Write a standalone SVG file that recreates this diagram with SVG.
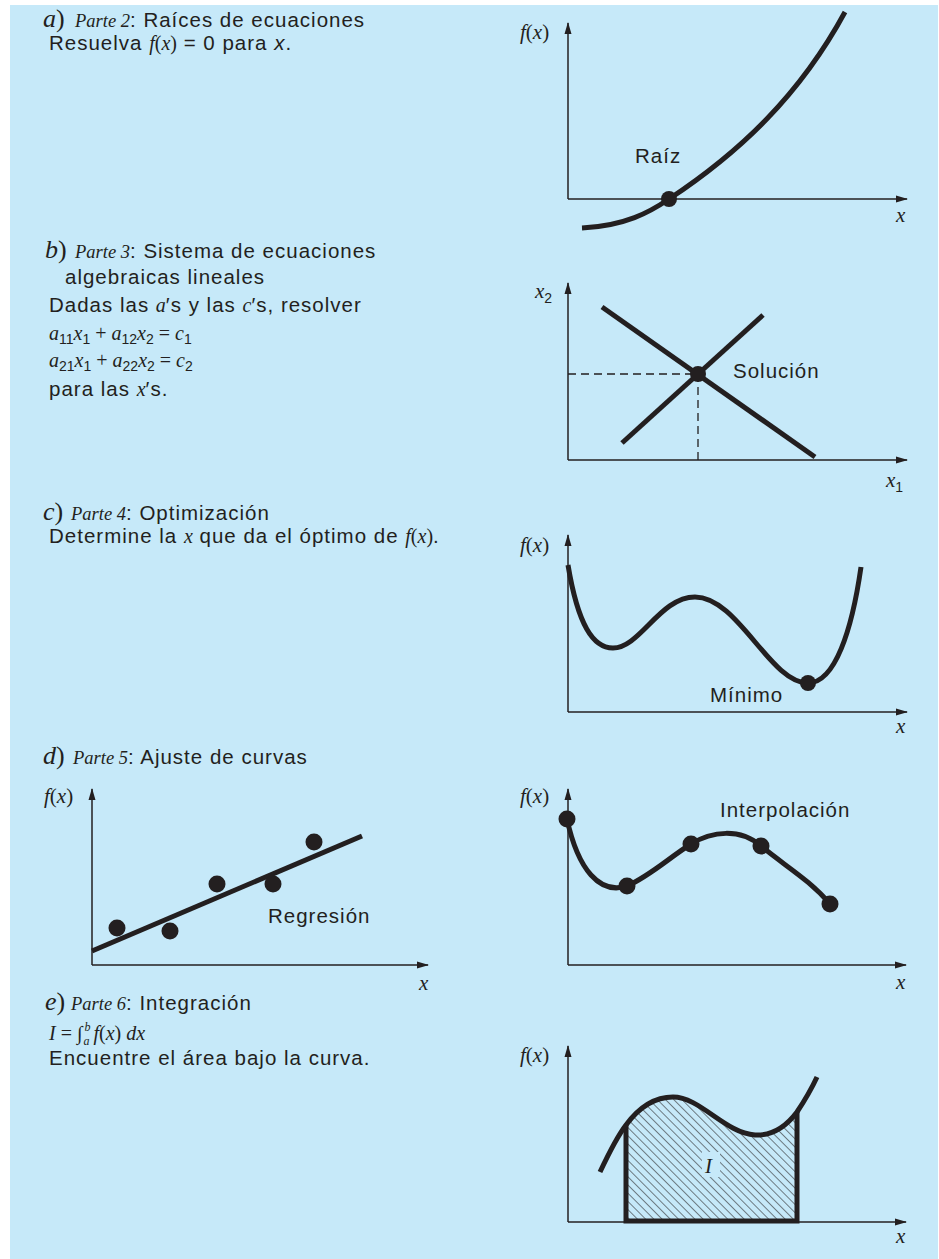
<svg xmlns="http://www.w3.org/2000/svg" width="939" height="1259" viewBox="0 0 939 1259">
<style>
.sans{font-family:"Liberation Sans",Arial,sans-serif;font-size:20.5px;letter-spacing:1px;fill:#231f20}
.ser{font-family:"Liberation Serif","Times New Roman",serif;fill:#231f20;letter-spacing:0}
.it{font-style:italic}
.big{font-size:26px}
.mid{font-size:18.5px}
.inl{font-size:20px}
.sub{font-family:"Liberation Sans",Arial,sans-serif;font-size:14px;font-style:normal}
.lab{font-family:"Liberation Serif","Times New Roman",serif;font-size:21px;font-style:italic;fill:#231f20}
.axis{stroke:#231f20;stroke-width:1.5;fill:none}
.curve{stroke:#231f20;stroke-width:5;fill:none;stroke-linecap:butt}
.dash{stroke:#231f20;stroke-width:1.3;fill:none;stroke-dasharray:8 5}
.dot{fill:#231f20}
</style>
<defs>
<marker id="arr" markerUnits="userSpaceOnUse" markerWidth="12" markerHeight="8" refX="11" refY="4" orient="auto">
<path d="M0,0.5 L12,4 L0,7.5 z" fill="#231f20"/>
</marker>
<pattern id="hatch" patternUnits="userSpaceOnUse" width="5.8" height="10" patternTransform="rotate(-45)">
<line x1="0" y1="-2" x2="0" y2="12" stroke="#231f20" stroke-width="1.1"/>
</pattern>
</defs>
<rect x="10" y="5" width="928" height="1254" fill="#c6e9f9"/>

<g id="text-a">
<text x="43" y="27" class="sans"><tspan class="ser it big">a</tspan><tspan class="ser big">)</tspan><tspan class="ser it mid" x="75">Parte 2</tspan>: Raíces de ecuaciones</text>
<text x="49" y="50" class="sans">Resuelva <tspan class="ser it inl">f</tspan><tspan class="ser inl">(</tspan><tspan class="ser it inl">x</tspan><tspan class="ser inl">)</tspan> = 0 para <tspan font-style="italic">x</tspan>.</text>
</g>

<g id="graph-a">
<line class="axis" x1="568" y1="199" x2="568" y2="23" marker-end="url(#arr)"/>
<line class="axis" x1="568" y1="199" x2="907" y2="199" marker-end="url(#arr)"/>
<text x="520" y="39" class="lab">f<tspan font-style="normal">(</tspan>x<tspan font-style="normal">)</tspan></text>
<text x="896" y="222" class="lab">x</text>
<path class="curve" d="M582,228 C625,226 650,212 669,199 C740,152 800,95 845,12"/>
<circle class="dot" cx="669" cy="199" r="8"/>
<text x="635" y="163" class="sans">Raíz</text>
</g>

<g id="text-b">
<text x="45" y="258" class="sans"><tspan class="ser it big">b</tspan><tspan class="ser big">)</tspan><tspan class="ser it mid" x="75">Parte 3</tspan>: Sistema de ecuaciones</text>
<text x="65" y="284" class="sans">algebraicas lineales</text>
<text x="49" y="312" class="sans">Dadas las <tspan class="ser it inl">a</tspan>′s y las <tspan class="ser it inl">c</tspan>′s, resolver</text>
<text x="49" y="340" class="ser it inl">a<tspan class="sub" dy="4">11</tspan><tspan dy="-4">x</tspan><tspan class="sub" dy="4">1</tspan><tspan dy="-4" font-style="normal"> + </tspan>a<tspan class="sub" dy="4">12</tspan><tspan dy="-4">x</tspan><tspan class="sub" dy="4">2</tspan><tspan dy="-4" font-style="normal"> = </tspan>c<tspan class="sub" dy="4">1</tspan></text>
<text x="49" y="367" class="ser it inl">a<tspan class="sub" dy="4">21</tspan><tspan dy="-4">x</tspan><tspan class="sub" dy="4">1</tspan><tspan dy="-4" font-style="normal"> + </tspan>a<tspan class="sub" dy="4">22</tspan><tspan dy="-4">x</tspan><tspan class="sub" dy="4">2</tspan><tspan dy="-4" font-style="normal"> = </tspan>c<tspan class="sub" dy="4">2</tspan></text>
<text x="49" y="396" class="sans">para las <tspan class="ser it inl">x</tspan>′s.</text>
</g>

<g id="graph-b">
<line class="axis" x1="568" y1="460" x2="568" y2="283" marker-end="url(#arr)"/>
<line class="axis" x1="568" y1="460" x2="907" y2="460" marker-end="url(#arr)"/>
<line class="dash" x1="568" y1="374" x2="698" y2="374"/>
<line class="dash" x1="698" y1="374" x2="698" y2="460"/>
<line class="curve" x1="602" y1="307" x2="815" y2="457"/>
<line class="curve" x1="622" y1="443" x2="763" y2="315"/>
<circle class="dot" cx="698" cy="374" r="8"/>
<text x="535" y="298" class="lab">x<tspan class="sub" font-size="15" dy="5">2</tspan></text>
<text x="886" y="487" class="lab">x<tspan class="sub" font-size="15" dy="5">1</tspan></text>
<text x="733" y="378" class="sans" letter-spacing="2">Solución</text>
</g>

<g id="text-c">
<text x="43" y="520" class="sans"><tspan class="ser it big">c</tspan><tspan class="ser big">)</tspan><tspan class="ser it mid" x="71">Parte 4</tspan>: Optimización</text>
<text x="49" y="543" class="sans">Determine la <tspan class="ser it inl">x</tspan> que da el óptimo de <tspan class="ser it inl">f</tspan><tspan class="ser inl">(</tspan><tspan class="ser it inl">x</tspan><tspan class="ser inl">)</tspan>.</text>
</g>

<g id="graph-c">
<line class="axis" x1="568" y1="712" x2="568" y2="535" marker-end="url(#arr)"/>
<line class="axis" x1="568" y1="712" x2="907" y2="712" marker-end="url(#arr)"/>
<text x="520" y="552" class="lab">f<tspan font-style="normal">(</tspan>x<tspan font-style="normal">)</tspan></text>
<text x="896" y="733" class="lab">x</text>
<path class="curve" d="M568,565 C578,625 593,648 613,648 C640,648 660,597 695,597 C738,597 770,683 808,683 C835,683 852,630 861,567"/>
<circle class="dot" cx="808" cy="683" r="8"/>
<text x="710" y="702" class="sans">Mínimo</text>
</g>

<g id="text-d">
<text x="43" y="764" class="sans"><tspan class="ser it big">d</tspan><tspan class="ser big">)</tspan><tspan class="ser it mid" x="73">Parte 5</tspan>: Ajuste de curvas</text>
</g>

<g id="graph-d1">
<line class="axis" x1="92" y1="965" x2="92" y2="789" marker-end="url(#arr)"/>
<line class="axis" x1="92" y1="965" x2="428" y2="965" marker-end="url(#arr)"/>
<text x="44" y="803" class="lab">f<tspan font-style="normal">(</tspan>x<tspan font-style="normal">)</tspan></text>
<text x="419" y="990" class="lab">x</text>
<line class="curve" x1="92" y1="951" x2="362" y2="836"/>
<circle class="dot" cx="117" cy="928" r="8.5"/>
<circle class="dot" cx="170" cy="931" r="8.5"/>
<circle class="dot" cx="217" cy="884" r="8.5"/>
<circle class="dot" cx="273" cy="884" r="8.5"/>
<circle class="dot" cx="314" cy="842" r="8.5"/>
<text x="268" y="923" class="sans">Regresión</text>
</g>

<g id="graph-d2">
<line class="axis" x1="568" y1="965" x2="568" y2="789" marker-end="url(#arr)"/>
<line class="axis" x1="568" y1="965" x2="906" y2="965" marker-end="url(#arr)"/>
<text x="520" y="803" class="lab">f<tspan font-style="normal">(</tspan>x<tspan font-style="normal">)</tspan></text>
<text x="896" y="989" class="lab">x</text>
<path class="curve" d="M567,819 C578,870 600,895 627,886 C650,876 670,857 691,844 C712,831 740,828 761,846 C785,866 810,880 830,904"/>
<circle class="dot" cx="567" cy="819" r="8.5"/>
<circle class="dot" cx="627" cy="886" r="8.5"/>
<circle class="dot" cx="691" cy="844" r="8.5"/>
<circle class="dot" cx="761" cy="846" r="8.5"/>
<circle class="dot" cx="830" cy="904" r="8.5"/>
<text x="720" y="817" class="sans">Interpolación</text>
</g>

<g id="text-e">
<text x="45" y="1010" class="sans"><tspan class="ser it big">e</tspan><tspan class="ser big">)</tspan><tspan class="ser it mid" x="71">Parte 6</tspan>: Integración</text>
<text x="49" y="1040" class="ser it inl">I <tspan font-style="normal">= ∫</tspan><tspan font-size="12" dx="1" dy="5">a</tspan><tspan font-size="12" dx="-5" dy="-14">b</tspan><tspan dx="3" dy="9">f</tspan><tspan font-style="normal">(</tspan>x<tspan font-style="normal">)</tspan> dx</text>
<text x="49" y="1065" class="sans">Encuentre el área bajo la curva.</text>
</g>

<g id="graph-e">
<line class="axis" x1="568" y1="1222" x2="568" y2="1046" marker-end="url(#arr)"/>
<line class="axis" x1="568" y1="1222" x2="906" y2="1222" marker-end="url(#arr)"/>
<text x="520" y="1062" class="lab">f<tspan font-style="normal">(</tspan>x<tspan font-style="normal">)</tspan></text>
<text x="896" y="1243" class="lab">x</text>
<path d="M626,1221 L626,1125 C640,1106 655,1097 673,1097 C700,1097 725,1133 755,1135 C775,1136 788,1124 797,1112 L797,1221 Z" fill="url(#hatch)"/>
<rect x="702" y="1152" width="18" height="25" fill="#c6e9f9"/>
<text x="705" y="1173" class="lab">I</text>
<path class="curve" d="M626,1125 L626,1221 L797,1221 L797,1112" stroke-linejoin="miter"/>
<path class="curve" d="M600,1172 C608,1155 616,1138 626,1125 C640,1106 655,1097 673,1097 C700,1097 725,1133 755,1135 C775,1136 788,1124 797,1112 C805,1100 811,1090 817,1077"/>
</g>
</svg>
